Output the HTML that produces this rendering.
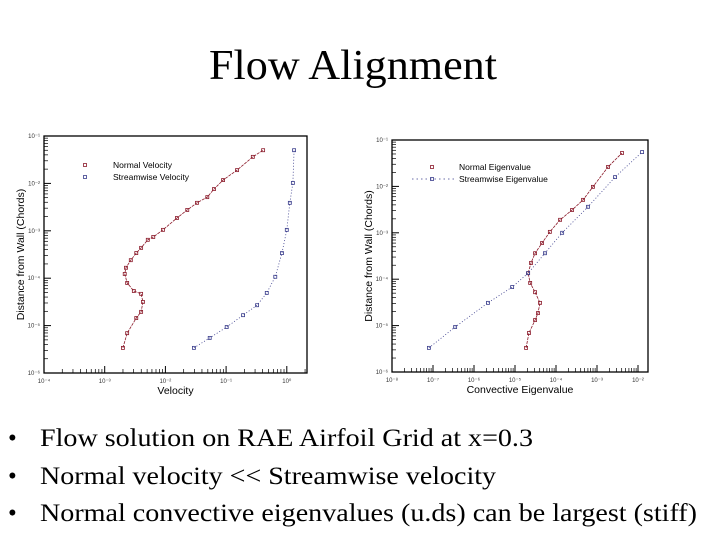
<!DOCTYPE html>
<html><head><meta charset="utf-8"><style>
html,body{margin:0;padding:0;background:#fff;}
svg{display:block;font-family:"Liberation Sans",sans-serif;}
.serif{font-family:"Liberation Serif",serif;}
</style></head><body>
<svg id="s" width="720" height="540" viewBox="0 0 720 540" xmlns="http://www.w3.org/2000/svg">
<text class="serif" x="209" y="79" font-size="42" textLength="288" lengthAdjust="spacingAndGlyphs">Flow Alignment</text>
<g id="p1"></g>
<g id="p2"></g>
<g class="serif" font-size="25">
<text x="8" y="446">•</text>
<text x="40" y="446" textLength="493" lengthAdjust="spacingAndGlyphs">Flow solution on RAE Airfoil Grid at x=0.3</text>
<text x="8" y="484">•</text>
<text x="40" y="484" textLength="456" lengthAdjust="spacingAndGlyphs">Normal velocity &lt;&lt; Streamwise velocity</text>
<text x="8" y="521">•</text>
<text x="40" y="521" textLength="657" lengthAdjust="spacingAndGlyphs">Normal convective eigenvalues (u.ds) can be largest (stiff)</text>
</g>
</svg>
<script>
// log10 values
const velNormX=[-2.70,-2.63,-2.48,-2.40,-2.37,-2.40,-2.52,-2.63,-2.67,-2.65,-2.57,-2.48,-2.40,-2.29,-2.20,-2.04,-1.81,-1.64,-1.48,-1.31,-1.20,-1.05,-0.82,-0.56,-0.39];
const velNormY=[-5.47,-5.16,-4.84,-4.71,-4.50,-4.33,-4.27,-4.10,-3.91,-3.78,-3.62,-3.47,-3.36,-3.19,-3.13,-2.98,-2.73,-2.56,-2.41,-2.29,-2.12,-1.93,-1.72,-1.44,-1.30];
const velStrX=[-1.53,-1.27,-0.99,-0.72,-0.49,-0.33,-0.19,-0.08,0.00,0.05,0.10,0.12];
const velStrY=[-5.47,-5.26,-5.03,-4.78,-4.57,-4.31,-3.97,-3.47,-2.98,-2.41,-1.99,-1.30];
const eigNormX=[-4.73,-4.66,-4.51,-4.44,-4.39,-4.51,-4.63,-4.68,-4.61,-4.51,-4.34,-4.15,-3.90,-3.61,-3.34,-3.10,-2.73,-2.39];
const eigNormY=[-5.48,-5.16,-4.88,-4.73,-4.51,-4.28,-4.08,-3.87,-3.65,-3.44,-3.22,-2.98,-2.72,-2.51,-2.29,-2.01,-1.58,-1.28];
const eigStrX=[-7.10,-6.46,-5.66,-5.07,-4.68,-4.27,-3.85,-3.22,-2.56,-1.90];
const eigStrY=[-5.48,-5.03,-4.51,-4.17,-3.87,-3.44,-3.00,-2.44,-1.80,-1.26];
const velXTicks=["10⁻⁴","10⁻³","10⁻²","10⁻¹","10⁰"];
const velYTicks=["10⁻⁶","10⁻⁵","10⁻⁴","10⁻³","10⁻²","10⁻¹"];
const eigXTicks=["10⁻⁸","10⁻⁷","10⁻⁶","10⁻⁵","10⁻⁴","10⁻³","10⁻²"];
const eigYTicks=["10⁻⁶","10⁻⁵","10⁻⁴","10⁻³","10⁻²","10⁻¹"];
const NS="http://www.w3.org/2000/svg";
function mk(p,t,a){const e=document.createElementNS(NS,t);for(const k in a)e.setAttribute(k,a[k]);p.appendChild(e);return e;}
function chart(g,o){
  const sx=v=>o.x0+(v-o.xmin)*o.dx, sy=v=>o.y1-(v-o.ymin)*o.dy;
  const fr=mk(g,'rect',{x:o.x0,y:o.y0,width:o.x1-o.x0,height:o.y1-o.y0,fill:'none',stroke:'#000','stroke-width':1.3});
  
  
  o.xt.forEach((l,i)=>{const x=sx(o.xmin+i);
    if(x>o.x1+1)return;
    mk(g,'line',{x1:x,x2:x,y1:o.y1,y2:o.y1-7,stroke:'#000'});
    for(let m=2;m<10;m++){const xm=x+Math.log10(m)*o.dx;if(xm<o.x1)mk(g,'line',{x1:xm,x2:xm,y1:o.y1,y2:o.y1-4,stroke:'#000','stroke-width':0.7});}
    const t=mk(g,'text',{x:x,y:o.y1+10,'font-size':6,'text-anchor':'middle',fill:'#333'});t.textContent=l;
    
    });
  o.yt.forEach((l,i)=>{const y=sy(o.ymin+i);
    mk(g,'line',{x1:o.x0,x2:o.x0+7,y1:y,y2:y,stroke:'#000'});
    if(i<o.yt.length-1)for(let m=2;m<10;m++){const ym=y-Math.log10(m)*o.dy;mk(g,'line',{x1:o.x0,x2:o.x0+4,y1:ym,y2:ym,stroke:'#000','stroke-width':0.7});}
    const t=mk(g,'text',{x:o.x0-4,y:y+2,'font-size':6,'text-anchor':'end',fill:'#333'});t.textContent=l;
    
    });
  const xt=mk(g,'text',{x:(o.x0+o.x1)/2,y:o.y1+21,'font-size':10.5,'text-anchor':'middle'});xt.textContent=o.xl;
  
  
  const cy=(o.y0+o.y1)/2;
  const yt=mk(g,'text',{x:o.ylx,y:cy,'font-size':10.5,'text-anchor':'middle',transform:`rotate(-90 ${o.ylx} ${cy})`});yt.textContent='Distance from Wall (Chords)';
  
  
  o.series.forEach(s=>{
    const pts=s.x.map((v,i)=>sx(v)+','+sy(s.y[i])).join(' ');
    const pl=mk(g,'polyline',{points:pts,fill:'none',stroke:s.c,'stroke-width':0.8,'stroke-dasharray':s.dash});
    
    
    s.x.forEach((v,i)=>{const r=mk(g,'rect',{x:sx(v)-1.5,y:sy(s.y[i])-1.5,width:3,height:3,fill:'none',stroke:s.c,'stroke-width':0.8});
      
      });
    const lg=mk(g,'g',{});
    
    
    if(s.lline)mk(lg,'line',{x1:s.lx-20,x2:s.lx+22,y1:s.ly,y2:s.ly,stroke:s.c,'stroke-width':0.8,'stroke-dasharray':'1.5 3'});
    mk(lg,'rect',{x:s.lx-1.5,y:s.ly-1.5,width:3,height:3,fill:'none',stroke:s.c,'stroke-width':0.8});
    const t=mk(lg,'text',{x:o.legx,y:s.ly+3,'font-size':8.5});t.textContent=s.label;
  });
}
chart(document.getElementById('p1'),{x0:44,x1:307,y0:136,y1:373,xmin:-4,dx:60.7,ymin:-6,dy:47.4,xt:velXTicks,yt:velYTicks,xl:'Velocity',ylx:24,legx:113,
 series:[{name:'normal-velocity',x:velNormX,y:velNormY,c:'#8b1a2a',dash:'3 1',label:'Normal Velocity',lx:85,ly:165},
         {name:'streamwise-velocity',x:velStrX,y:velStrY,c:'#3a3d8c',dash:'1 2',label:'Streamwise Velocity',lx:85,ly:177}]});
chart(document.getElementById('p2'),{x0:392,x1:648,y0:140,y1:372,xmin:-8,dx:41,ymin:-6,dy:46.4,xt:eigXTicks,yt:eigYTicks,xl:'Convective Eigenvalue',ylx:372,legx:459,
 series:[{name:'normal-eigenvalue',x:eigNormX,y:eigNormY,c:'#8b1a2a',dash:'3 1',label:'Normal Eigenvalue',lx:432,ly:167},
         {name:'streamwise-eigenvalue',x:eigStrX,y:eigStrY,c:'#3a3d8c',dash:'1 2',label:'Streamwise Eigenvalue',lx:432,ly:179,lline:true}]});
</script>
</body></html>
